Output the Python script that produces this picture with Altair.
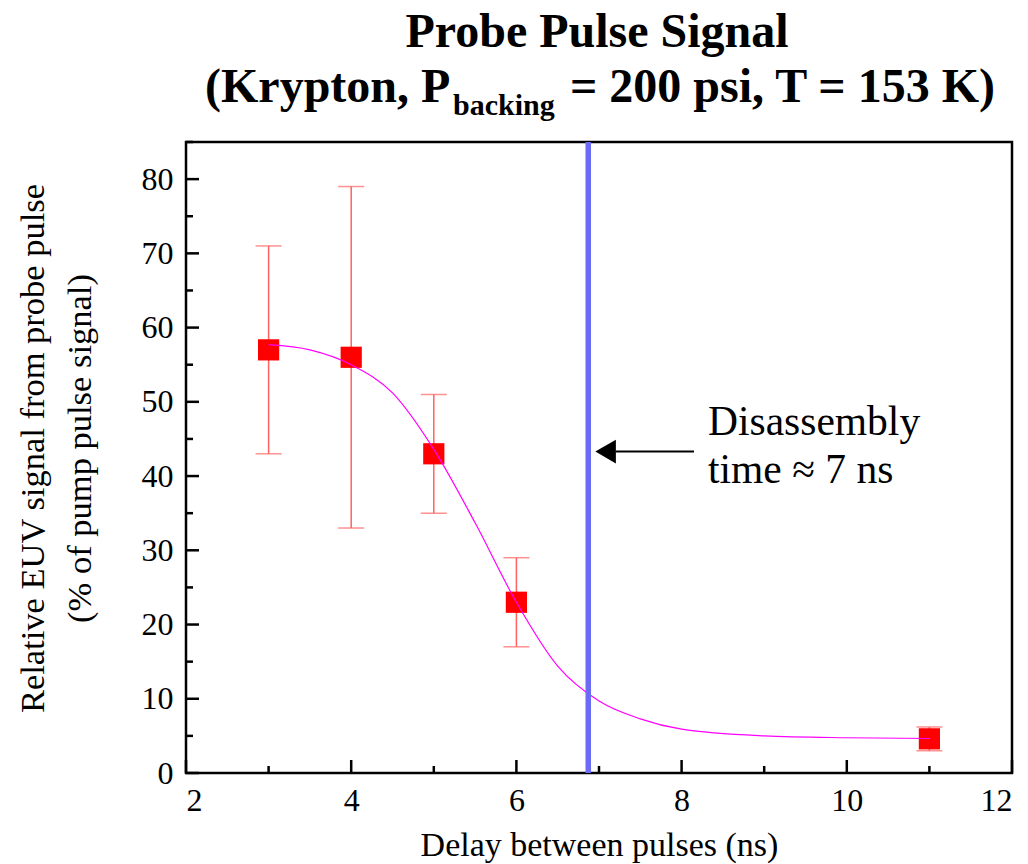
import altair as alt
import pandas as pd

# ---- data ----
delay = [3, 4, 5, 6, 11]
signal = [57, 56, 43, 23, 4.6]
err_low = [43, 33, 35, 17, 3.0]
err_high = [71, 79, 51, 29, 6.2]

fit_x = [3.0, 3.5, 4.0, 4.5, 5.0, 5.5, 6.0, 6.5, 7.0, 7.5, 8.0, 9.0, 10.0, 11.0]
fit_y = [57.7, 57.0, 55.0, 51.2, 43.6, 33.7, 23.0, 14.4, 9.7, 7.3, 5.9, 5.0, 4.75, 4.65]

disassembly_time = [6.87]
arrow_shaft_x = [7.2, 8.15]
arrow_tip_x = [7.08]
arrow_y = 43.3
note_lines = ["Disassembly", "time \u2248 7 ns"]
note_x = 8.32
note_y = [45.5, 39.0]

x_major = [2, 4, 6, 8, 10, 12]
x_minor = [3, 5, 7, 9, 11]
y_major = [0, 10, 20, 30, 40, 50, 60, 70, 80]
y_minor = [5, 15, 25, 35, 45, 55, 65, 75, 85]

W, H = 826, 631
FONT = "Liberation Serif"

pts = pd.DataFrame({"delay": delay, "signal": signal, "lo": err_low, "hi": err_high})
fit = pd.DataFrame({"delay": fit_x, "signal": fit_y})

xs = alt.Scale(domain=[2, 12], nice=False, zero=False)
ys = alt.Scale(domain=[0, 85], nice=False, zero=True)

X = alt.X("delay:Q", scale=xs,
          axis=alt.Axis(values=x_major, format="d", labelPadding=12, title="Delay between pulses (ns)",
                        titleY=82, titleBaseline="alphabetic", titleFontSize=34))
Y = alt.Y("signal:Q", scale=ys,
          axis=alt.Axis(values=y_major, format="d", labelPadding=13,
                        title=["Relative EUV signal from probe pulse", "(% of pump pulse signal)"],
                        titleX=-143, titleY=306, titleAngle=270, titleAlign="center",
                        titleBaseline="alphabetic", titleLineHeight=47, titleFontSize=34.5))

err_col = "#ff6262"
bars = alt.Chart(pts).mark_rule(color=err_col, strokeWidth=1.5).encode(
    x=X, y=alt.Y("lo:Q", scale=ys), y2="hi:Q")
cap_lo = alt.Chart(pts).mark_tick(color=err_col, orient="horizontal", size=26, thickness=1.5).encode(
    x="delay:Q", y=alt.Y("lo:Q", scale=ys))
cap_hi = alt.Chart(pts).mark_tick(color=err_col, orient="horizontal", size=26, thickness=1.5).encode(
    x="delay:Q", y=alt.Y("hi:Q", scale=ys))
markers = alt.Chart(pts).mark_point(shape="square", filled=True, color="#ff0000", size=450, opacity=1).encode(
    x="delay:Q", y=Y)
curve = alt.Chart(fit).mark_line(color="#ff00ff", strokeWidth=1.2, interpolate="monotone").encode(
    x="delay:Q", y="signal:Q")

vline = alt.Chart(pd.DataFrame({"delay": disassembly_time})).mark_rule(
    color="#6b6bf5", strokeWidth=5.5).encode(x="delay:Q", y=alt.value(0), y2=alt.value(H))

shaft = alt.Chart(pd.DataFrame({"delay": arrow_shaft_x, "signal": [arrow_y] * 2})).mark_line(
    color="black", strokeWidth=2).encode(x="delay:Q", y="signal:Q")
head = alt.Chart(pd.DataFrame({"delay": arrow_tip_x, "signal": [arrow_y]})).mark_point(
    shape="triangle-left", filled=True, color="black", size=560, opacity=1).encode(
    x="delay:Q", y="signal:Q")
note = alt.Chart(pd.DataFrame({"delay": [note_x] * 2, "signal": note_y, "t": note_lines})).mark_text(
    font=FONT, fontSize=41.5, align="left", baseline="alphabetic", color="black").encode(
    x="delay:Q", y="signal:Q", text="t:N")

# inward ticks
xt_major = alt.Chart(pd.DataFrame({"delay": x_major})).mark_rule(color="black", strokeWidth=2.5).encode(
    x="delay:Q", y=alt.value(H), y2=alt.value(H - 13))
xt_minor = alt.Chart(pd.DataFrame({"delay": x_minor})).mark_rule(color="black", strokeWidth=2.5).encode(
    x="delay:Q", y=alt.value(H), y2=alt.value(H - 7))
yt_major = alt.Chart(pd.DataFrame({"signal": y_major})).mark_rule(color="black", strokeWidth=2.5).encode(
    y="signal:Q", x=alt.value(0), x2=alt.value(13))
yt_minor = alt.Chart(pd.DataFrame({"signal": y_minor})).mark_rule(color="black", strokeWidth=2.5).encode(
    y="signal:Q", x=alt.value(0), x2=alt.value(7))

# title (with subscript) as text marks
title_rows = pd.DataFrame({"t": ["Probe Pulse Signal"]})
t1 = alt.Chart(title_rows).mark_text(font=FONT, fontSize=48, fontWeight="bold", align="center",
                                     baseline="alphabetic", color="black").encode(
    text="t:N", x=alt.value(411), y=alt.value(-95))
t2a = alt.Chart(pd.DataFrame({"t": ["(Krypton, P"]})).mark_text(
    font=FONT, fontSize=48, fontWeight="bold", align="left", baseline="alphabetic", color="black").encode(
    text="t:N", x=alt.value(19), y=alt.value(-40))
t2b = alt.Chart(pd.DataFrame({"t": ["backing"]})).mark_text(
    font=FONT, fontSize=30, fontWeight="bold", align="left", baseline="alphabetic", color="black").encode(
    text="t:N", x=alt.value(267), y=alt.value(-27))
t2c = alt.Chart(pd.DataFrame({"t": ["= 200 psi, T = 153 K)"]})).mark_text(
    font=FONT, fontSize=48, fontWeight="bold", align="right", baseline="alphabetic", color="black").encode(
    text="t:N", x=alt.value(809), y=alt.value(-40))

chart = alt.layer(
    bars, cap_lo, cap_hi, markers, curve, vline, shaft, head, note,
    xt_major, xt_minor, yt_major, yt_minor, t1, t2a, t2b, t2c
).properties(
    width=W, height=H,
    autosize=alt.AutoSizeParams(type="none"),
    padding={"left": 186, "top": 142, "right": 16, "bottom": 91},
    background="white",
).configure_view(
    stroke="black", strokeWidth=2.5
).configure_axis(
    domain=False, ticks=False, grid=False,
    labelFont=FONT, labelFontSize=32, labelColor="black",
    titleFont=FONT, titleFontSize=33, titleFontWeight="normal", titleColor="black",
)

chart.save("out.html", embed_options={"renderer": "svg", "actions": False})
